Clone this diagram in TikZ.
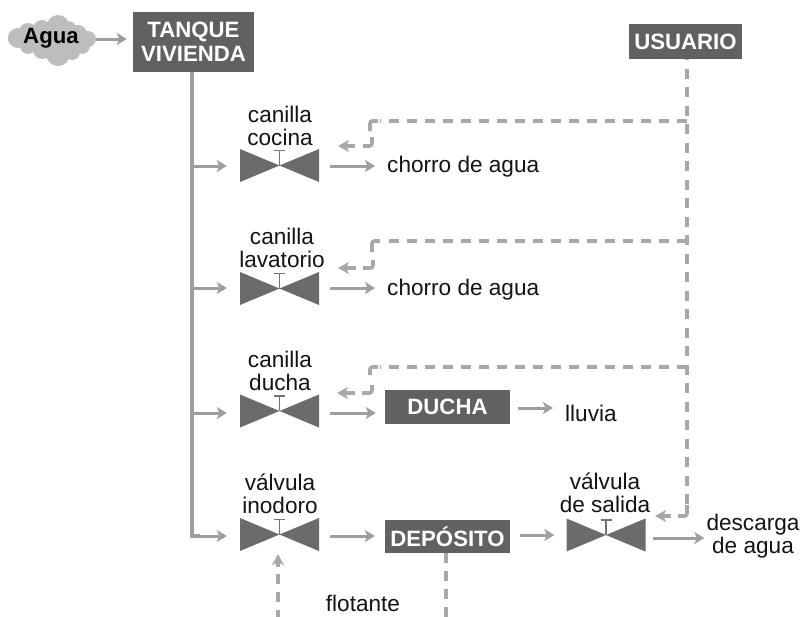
\documentclass[tikz,border=0pt]{standalone}
\usepackage{fontspec}
\setmainfont{Liberation Sans}
\usetikzlibrary{arrows.meta,calc}
\definecolor{boxgray}{gray}{0.38}
\definecolor{valvegray}{gray}{0.42}
\definecolor{pipegray}{gray}{0.62}
\definecolor{dashgray}{gray}{0.66}
\definecolor{cloudgray}{gray}{0.74}
\tikzset{
  x=1pt,y=-1pt,
  txt/.style={font=\fontsize{22.6}{22.5}\selectfont,align=center,inner sep=0pt,text=black!92},
  whitebox/.style={fill=boxgray,text=white,font=\fontsize{22.2}{24}\selectfont\bfseries,align=center,inner sep=0pt,anchor=center},
  valve/.style={minimum width=79pt,minimum height=33pt,inner sep=0pt,
    path picture={
      \fill[valvegray] (path picture bounding box.north west)--(path picture bounding box.center)--(path picture bounding box.south west)--cycle;
      \fill[valvegray] (path picture bounding box.north east)--(path picture bounding box.center)--(path picture bounding box.south east)--cycle;
      \draw[line width=1.3pt,black!55] (path picture bounding box.center)--++(0,-15) ++(-5.5,0)--++(11,0);
    }},
  flow/.style={line width=3pt,pipegray,-{Stealth[length=10pt,width=12pt,inset=2.5pt]}},
  pipe/.style={line width=3.6pt,pipegray},
  signal/.style={line width=3.6pt,dashgray,dash pattern=on 10pt off 8pt},
  hook/.style={line width=3.6pt,dashgray,rounded corners=2.5pt},
  signalhead/.style={line width=3.6pt,dashgray,-{Stealth[length=11pt,width=12pt,inset=3pt]}},
}
\begin{document}
\begin{tikzpicture}
\useasboundingbox (0,0) rectangle (803,616);
\fill[white] (0,0) rectangle (803,616);
% cloud
\fill[cloudgray]
  (18,38) circle[radius=10] (13,40) circle[radius=5] (28,32) circle[radius=9]
  (42,29) circle[radius=9] (58,26) circle[radius=11] (68,30) circle[radius=9]
  (78,34) circle[radius=9] (88,39) circle[radius=8]
  (28,46) circle[radius=8] (42,50) circle[radius=9] (58,54) circle[radius=12]
  (72,52) circle[radius=8] (82,46) circle[radius=8] (52,40) circle[radius=18] (38,40) circle[radius=13] (68,42) circle[radius=13];
% nodes
\node[font=\fontsize{22.2}{24}\selectfont\bfseries,inner sep=0pt,minimum width=90pt,minimum height=50pt] (agua) at (51,38) {Agua};
\node[whitebox,minimum width=121pt,minimum height=60pt] (tanque) at (193.5,42) {TANQUE\\VIVIENDA};
\node[whitebox,minimum width=113pt,minimum height=35pt] (usuario) at (685.5,41.5) {USUARIO};
\node[whitebox,minimum width=125pt,minimum height=34pt] (ducha) at (447.5,407) {DUCHA};
\node[whitebox,minimum width=125pt,minimum height=33pt] (deposito) at (447.5,536.5) {DEPÓSITO};
\node[valve] (v1) at (279.5,165.5) {};
\node[valve] (v2) at (279.5,288.5) {};
\node[valve] (v3) at (279.5,411) {};
\node[valve] (v4) at (279.5,534.5) {};
\node[valve] (v5) at (606,535) {};
\node[txt] (l1) at (280,126) {canilla\\cocina};
\node[txt] (l2) at (282,248) {canilla\\lavatorio};
\node[txt] (l3) at (280,371) {canilla\\ducha};
\node[txt] (l4) at (280,494) {válvula\\inodoro};
\node[txt] (l5) at (605,493) {válvula\\de salida};
\node[txt,anchor=west] (c1) at (387,167) {chorro de agua};
\node[txt,anchor=west] (c2) at (387,290) {chorro de agua};
\node[txt,anchor=west] (ll) at (565,413) {lluvia};
\node[txt] (desc) at (753,536) {descarga\\de agua};
\node[txt] (flot) at (363,603) {flotante};
\coordinate (j1) at (192,166);
\coordinate (j2) at (192,288);
\coordinate (j3) at (192,413);
\coordinate (j4) at (192,536);
\coordinate (s1) at (687,121);
\coordinate (s2) at (687,241);
\coordinate (s3) at (687,367);
% connectors
\draw[flow,shorten >=6pt] (agua.east |- 0,39) -- (tanque.west |- 0,39);
\draw[pipe] (j1 |- tanque.south) -- (j4) -- ++(8,0);
\draw[flow,shorten >=13pt] (j1) -- (v1.west |- j1);
\draw[flow,shorten >=13pt] (j2) -- (v2.west |- j2);
\draw[flow,shorten >=13pt] (j3) -- (v3.west |- j3);
\draw[flow,shorten >=13pt] (j4) -- (v4.west |- j4);
\draw[flow,shorten <=11pt,shorten >=12pt] (v1.east |- 0,166) -- (c1.west |- 0,166);
\draw[flow,shorten <=11pt,shorten >=12pt] (v2.east |- 0,288) -- (c2.west |- 0,288);
\draw[flow,shorten <=11pt,shorten >=9pt] (v3.east |- 0,413) -- (ducha.west |- 0,413);
\draw[flow,shorten <=11pt,shorten >=10pt] (v4.east |- 0,536) -- (deposito.west |- 0,536);
\draw[flow,shorten <=10pt,shorten >=12pt] (deposito.east |- 0,535) -- (v5.west |- 0,535);
\draw[flow,shorten <=7pt,shorten >=2pt] (v5.east |- 0,538) -- (desc.west |- 0,538);
\draw[flow,shorten <=8pt,shorten >=12pt] (ducha.east |- 0,408) -- (ll.west |- 0,408);
% user signals
\draw[dashgray,line width=3.6pt,dash pattern=on 10pt off 8.5pt,dash phase=9pt] (usuario.south -| s1) -- (687,511);
\draw[signal] (s1) -- (380,121);
\draw[hook] (378,121) -- (370,121) -- (370,131);
\draw[hook] (372,137) -- (372,146) -- (363,146);
\draw[signalhead] (355,146) -- (338,146);
\draw[signal] (s2) -- (382,241);
\draw[hook] (380,241) -- (372,241) -- (372,252);
\draw[hook] (373,260) -- (373,268) -- (363,268);
\draw[signalhead] (356,268) -- (338,268);
\draw[signal] (s3) -- (380,367);
\draw[hook] (378,367) -- (370,367) -- (370,375);
\draw[hook] (372,385) -- (372,393) -- (362,393);
\draw[signalhead] (355,393) -- (337,393);
\draw[hook] (687,505) -- (687,516) -- (678,516);
\draw[signalhead] (671,516) -- (655,516);
% float signal
\draw[signal] (deposito.south -| 446,0) -- (446,628.5) -- (278,628.5) -- (278,570);
\draw[signalhead,shorten >=3pt] (278,567) -- (v4.south -| 278,0);
\end{tikzpicture}
\end{document}
